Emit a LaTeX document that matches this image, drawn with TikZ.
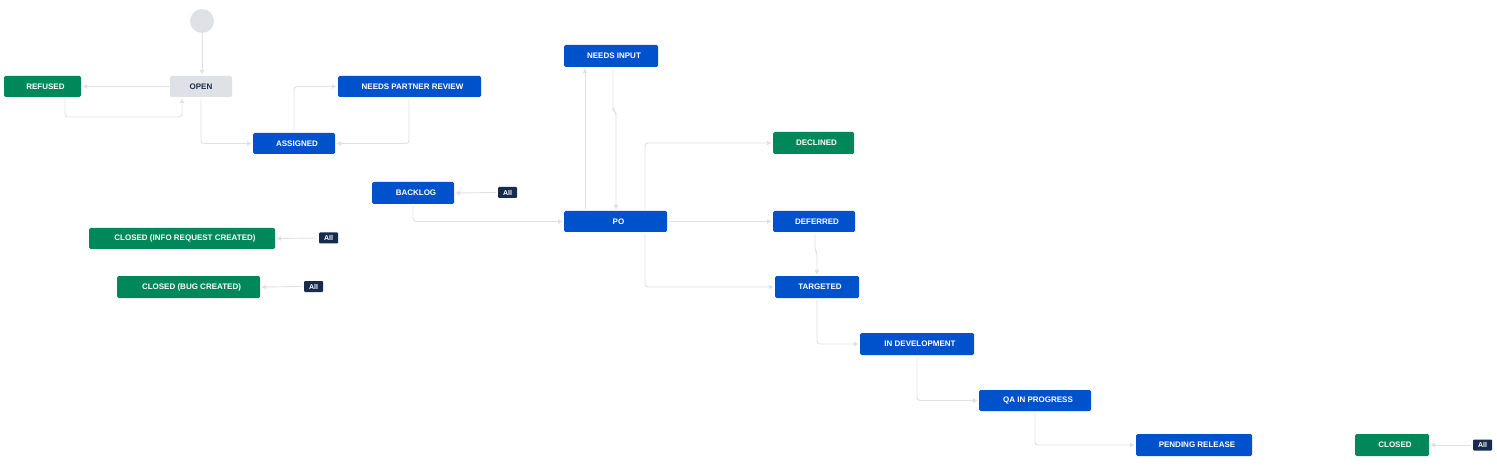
\documentclass[tikz,border=0pt]{standalone}
\usepackage{fontspec}
\setmainfont{Liberation Sans}
\usetikzlibrary{arrows.meta}
\definecolor{jblue}{HTML}{0052CC}
\definecolor{jgreen}{HTML}{00875A}
\definecolor{jgrey}{HTML}{DFE1E6}
\definecolor{jline}{HTML}{DFE1E6}
\definecolor{jdark}{HTML}{172B4D}
\begin{document}
\begin{tikzpicture}[x=1pt,y=-1pt,
  st/.style={rounded corners=1.5pt,text=white,font=\bfseries\fontsize{8}{9}\selectfont,inner sep=0pt},
  badge/.style={fill=jdark,rounded corners=1pt,text=white,font=\bfseries\fontsize{7}{8}\selectfont,inner sep=0pt,minimum width=19pt,minimum height=11pt},
  ln/.style={draw=jline,line width=0.9pt,rounded corners=3pt,-{Latex[length=5pt,width=5pt]}}]
\useasboundingbox (0,0) rectangle (1497,473);
\newcommand{\st}[6]{\path[st,fill=#6] (#2,#3) rectangle (#4,#5);
  \node[st,text=#6!0!white] (#1) at ({(#2+#4)/2},{(#3+#5)/2}) [minimum width=#4pt-#2pt,minimum height=#5pt-#3pt] {};}
\newcommand{\lbl}[3]{\node[st,anchor=center,text=#3] at ($(#1)+(6,0)$) {#2};}
% start
\fill[jgrey] (202,21) circle (12);
\coordinate (start) at (202,33);
% states
\foreach \n/\a/\b/\c/\d/\col in {open/170/76/232/97/jgrey, refused/4/76/81/97/jgreen, npr/338/76/481/97/jblue, assigned/253/133/335/154/jblue, ninput/564/45/658/67/jblue, declined/773/132/854/154/jgreen, backlog/372/182/454/204/jblue, popm/564/211/667/232/jblue, deferred/773/211/855/232/jblue, circ/89/228/275/249/jgreen, cbc/117/276/260/298/jgreen, targeted/775/276/859/298/jblue, indev/860/333/974/355/jblue, qa/979/390/1091/411/jblue, pending/1136/434/1252/456/jblue, closed/1355/434/1429/456/jgreen}{
  \fill[\col,rounded corners=1.5pt] (\a,\b) rectangle (\c,\d);
  \coordinate (\n) at ({(\a+\c)/2},{(\b+\d)/2});
  \coordinate (\n-w) at (\a,{(\b+\d)/2});
  \coordinate (\n-e) at (\c,{(\b+\d)/2});
}
\foreach \n/\t in {refused/REFUSED, npr/NEEDS PARTNER REVIEW, assigned/ASSIGNED, ninput/NEEDS INPUT, declined/DECLINED, backlog/BACKLOG, popm/PO/PM REVIEW, deferred/DEFERRED, circ/CLOSED (INFO REQUEST CREATED), cbc/CLOSED (BUG CREATED), targeted/TARGETED, indev/IN DEVELOPMENT, qa/QA IN PROGRESS, pending/PENDING RELEASE, closed/CLOSED}
  \node[st] (\n-t) at ([xshift=3pt]\n) {\t};
\node[st,text=jdark] (open-t) at (open) {OPEN};
% badges
\node[badge] (b1) at (507.5,192.5) {All};
\node[badge] (b2) at (328.5,238) {All};
\node[badge] (b3) at (313.5,286.5) {All};
\node[badge] (b4) at (1482.5,445) {All};
% edges
\draw[ln] (start) -- (202,75);
\draw[ln] (open-w) -- (82,86.5);
\draw[ln] (65,99) |- (182,117) -- (182,98);
\draw[ln] (201,99) |- (252,143.5);
\draw[ln] (294,131) |- (337,86.5);
\draw[ln] (409,99) |- (336,143.5);
\draw[ln] (585,209) -- (585,68);
\draw[ln] (613,69) -- (613,110) -- (616,113) -- (616,210);
\draw[ln] (645,209) |- (772,143);
\draw[ln] (popm-e) ++(2,0) -- (772,221.5);
\draw[ln] (645,234) |- (774,287);
\draw[ln] (815,234) -- (815,250) -- (817,253) -- (817,275);
\draw[ln] (817,300) |- (859,344);
\draw[ln] (917,357) |- (978,400.5);
\draw[ln] (1035,413) |- (1135,445);
\draw[ln] (413,206) |- (563,221.5);
\draw[ln] (b1.west) ++(-2,0) -- (455,193);
\draw[ln] (b2.west) ++(-2,0) -- (276,238.5);
\draw[ln] (b3.west) ++(-2,0) -- (261,287);
\draw[ln] (b4.west) ++(-2,0) -- (1430,445);
\end{tikzpicture}
\end{document}
